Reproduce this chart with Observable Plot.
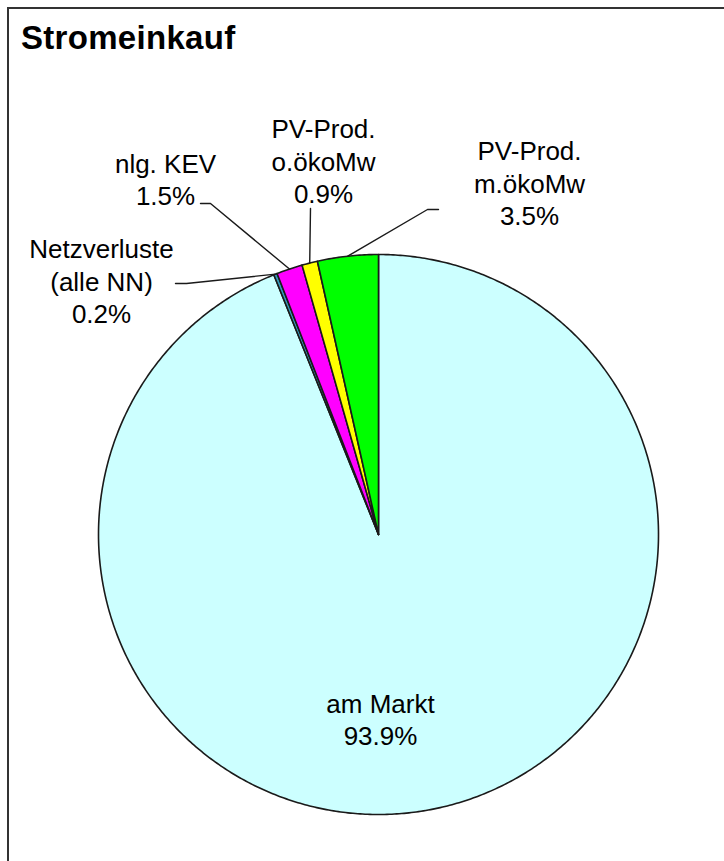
<!DOCTYPE html>
<html>
<head>
<meta charset="utf-8">
<script src="https://cdn.jsdelivr.net/npm/d3@7"></script>
<script src="https://cdn.jsdelivr.net/npm/@observablehq/plot@0.6"></script>
<style>
  html, body { margin: 0; padding: 0; background: #fff; overflow: hidden; width: 724px; height: 861px; }
  #frame { position: absolute; left: 7px; top: 7px; width: 800px; height: 900px;
           border-left: 2px solid #333; border-top: 2px solid #333; }
  #title { position: absolute; left: 21px; top: 21px; font: bold 33px/33px "Liberation Sans", Arial, sans-serif; color: #000; white-space: nowrap; letter-spacing: 0.3px; }
  #chart { position: absolute; left: 0; top: 72px; }
</style>
</head>
<body>
<div id="frame"></div>
<div id="title">Stromeinkauf</div>
<div id="chart"></div>
<script>
// ---- data ----
const categories = ["am Markt", "Netzverluste\n(alle NN)", "nlg. KEV", "PV-Prod.\no.ökoMw", "PV-Prod.\nm.ökoMw"];
const shares = [93.9, 0.2, 1.5, 0.9, 3.5];
const colors = ["#CCFFFF", "#3399BB", "#FF00FF", "#FFFF00", "#00FF00"];

// ---- layout (page pixels) ----
const W = 724, H = 789, TOP = 72;
const CX = 378, CY = 534, R = 280;
const ux = px => (px - CX) / R;
const uy = py => (CY - py) / R;
// label block centers and leader elbows (page px), by category index
const labelPos = [[380, 718], [101, 280], [165, 178], [323, 160], [529, 182]];
const leaderPts = [null, [[175, 283], [186, 283]], [[200, 203], [210, 203]], [[310, 208]], [[438, 209], [427, 209]]];

const arcs = d3.pie().sort(null).value(d => d)(shares);

// slice polygons
const slicePts = [];
arcs.forEach((a, i) => {
  const n = Math.max(2, Math.ceil((a.endAngle - a.startAngle) / (Math.PI / 360)));
  slicePts.push({k: categories[i], x: 0, y: 0});
  for (let j = 0; j <= n; j++) {
    const t = a.startAngle + (a.endAngle - a.startAngle) * j / n;
    slicePts.push({k: categories[i], x: Math.sin(t), y: Math.cos(t)});
  }
  slicePts.push({k: categories[i], x: 0, y: 0});
});

// leader lines
const leaders = [];
arcs.forEach((a, i) => {
  if (!leaderPts[i]) return;
  const m = (a.startAngle + a.endAngle) / 2;
  leaderPts[i].forEach(p => leaders.push({k: categories[i], x: ux(p[0]), y: uy(p[1])}));
  leaders.push({k: categories[i], x: Math.sin(m), y: Math.cos(m)});
});

const labels = arcs.map((a, i) => ({
  text: `${categories[i]}\n${shares[i].toFixed(1)}%`,
  x: ux(labelPos[i][0]), y: uy(labelPos[i][1])
}));

const chart = Plot.plot({
  width: W, height: H,
  margin: 0,
  x: {domain: [-CX / R, (W - CX) / R], axis: null},
  y: {domain: [-(H - (CY - TOP)) / R, (CY - TOP) / R], axis: null},
  color: {domain: categories, range: colors},
  style: {fontFamily: "'Liberation Sans', Arial, sans-serif", background: "transparent", overflow: "visible"},
  marks: [
    Plot.line(slicePts, {x: "x", y: "y", z: "k", fill: "k", stroke: "#1a1a1a", strokeWidth: 1.6, strokeLinejoin: "round", curve: "linear"}),
    Plot.line(leaders, {x: "x", y: "y", z: "k", stroke: "#1a1a1a", strokeWidth: 1.4, curve: "linear"}),
    Plot.text(labels, {x: "x", y: "y", text: "text", fontSize: 26, lineHeight: 1.25, textAnchor: "middle", lineAnchor: "middle", fill: "#000"})
  ]
});
document.getElementById("chart").appendChild(chart);
</script>
</body>
</html>
